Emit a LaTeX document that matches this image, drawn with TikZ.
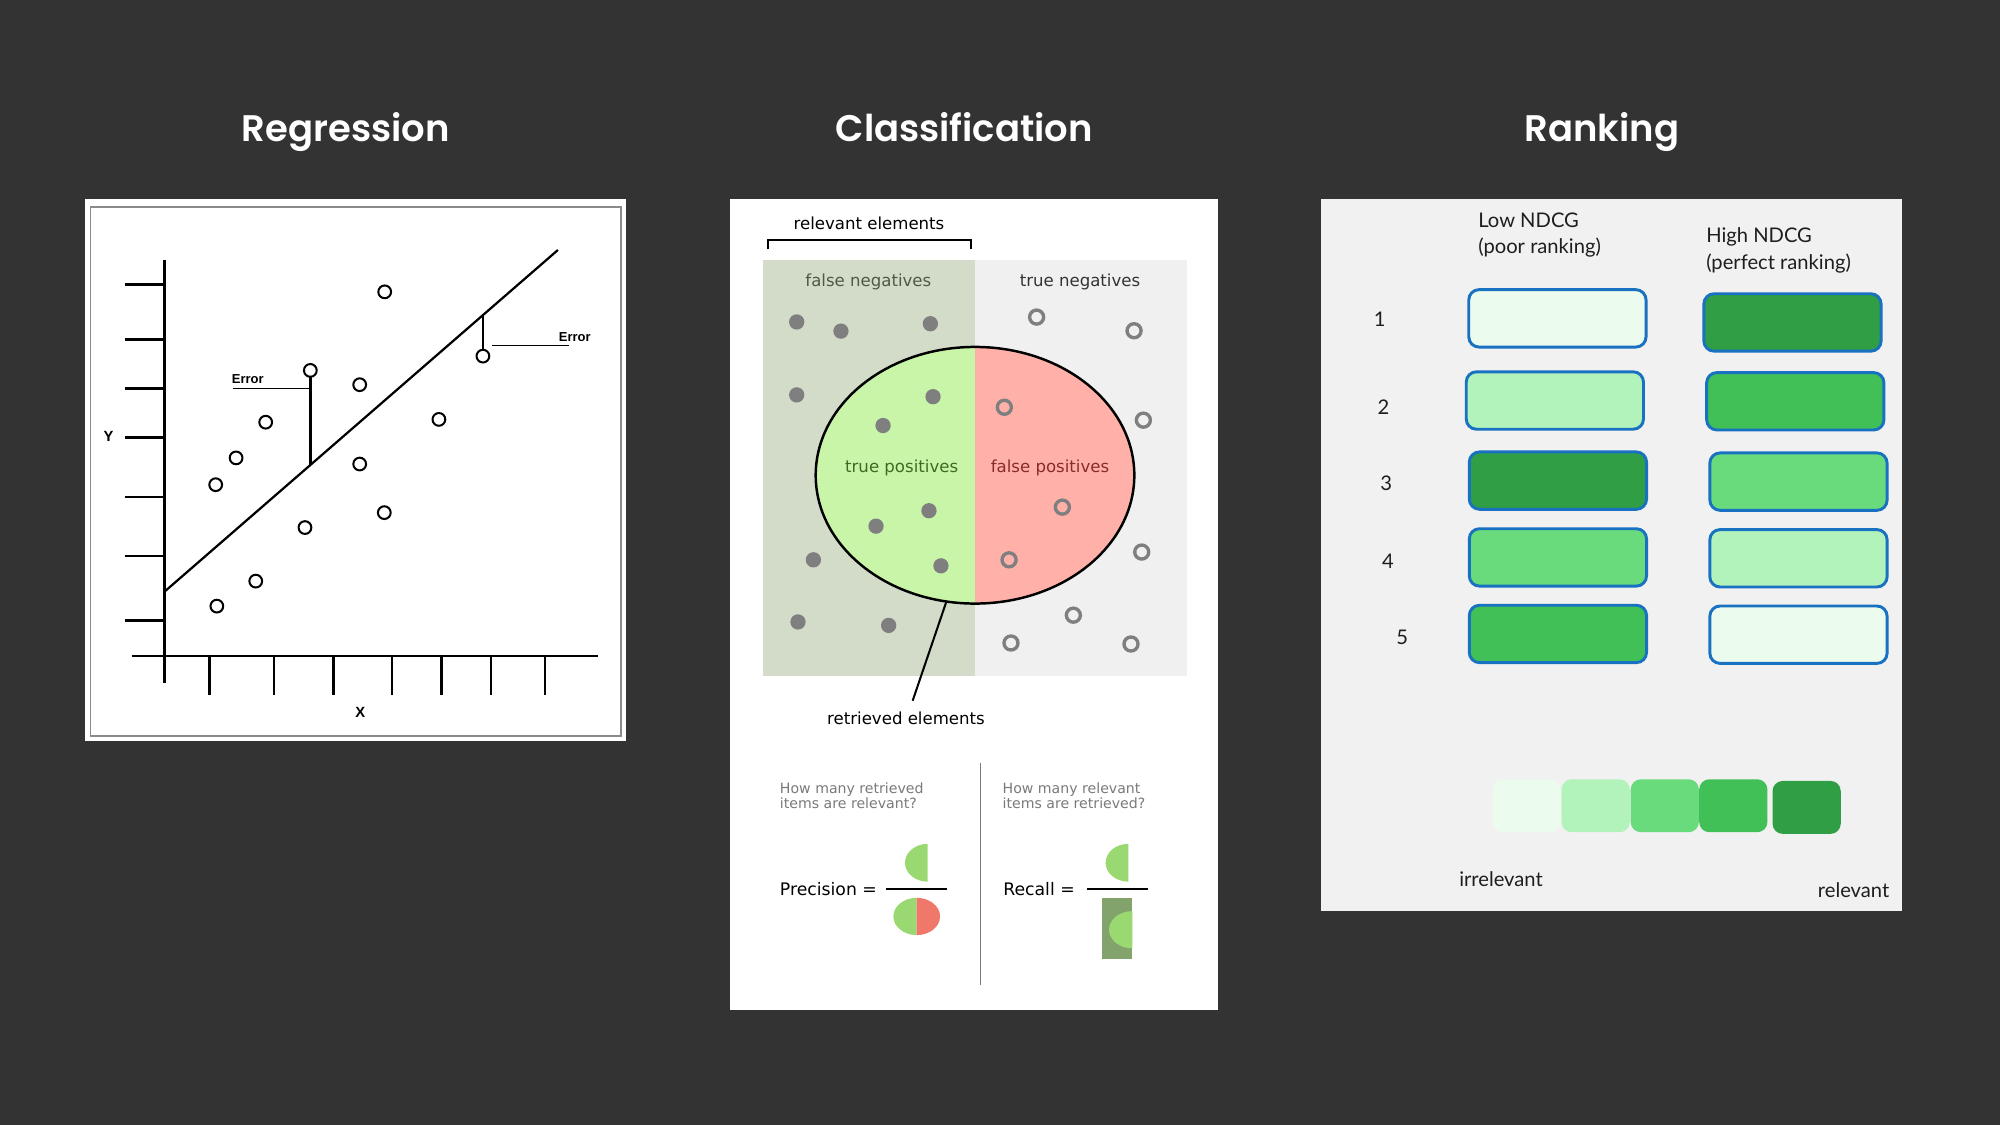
\documentclass[tikz,border=0pt]{standalone}
\usepackage{fontspec}
\setmainfont{DejaVu Sans}
\newfontfamily\titlefont{Poppins SemiBold}
\newfontfamily\arialfont{Liberation Sans}
\newfontfamily\handfont{Lato}
\definecolor{bgdark}{HTML}{333333}
\definecolor{framegray}{HTML}{8A8A8A}
\definecolor{relgreen}{HTML}{D2DCC9}
\definecolor{lightgray}{HTML}{F0F0F0}
\definecolor{tpgreen}{HTML}{C9F5A9}
\definecolor{fppink}{HTML}{FFB1A9}
\definecolor{dotgray}{HTML}{7F7F7F}
\definecolor{fntext}{HTML}{4E5A46}
\definecolor{tptext}{HTML}{3D6B1F}
\definecolor{fptext}{HTML}{8A2B2B}
\definecolor{askgray}{HTML}{7A7A7A}
\definecolor{prgreen}{HTML}{9AD872}
\definecolor{prred}{HTML}{F0786A}
\definecolor{prdark}{HTML}{82A46C}
\definecolor{rankbg}{HTML}{F1F1F1}
\definecolor{gzero}{HTML}{EBFBEE}
\definecolor{gtwo}{HTML}{B2F2BB}
\definecolor{gfour}{HTML}{69DB7C}
\definecolor{gsix}{HTML}{40C057}
\definecolor{geight}{HTML}{2F9E44}
\definecolor{boxblue}{HTML}{1971C2}
\definecolor{handink}{HTML}{1E1E1E}

\begin{document}
\begin{tikzpicture}[x=0.02cm, y=-0.02cm,
  every node/.style={inner sep=0pt, outer sep=0pt},
  ttl/.style={text=white, anchor=base, font=\titlefont\fontsize{16.5}{20}\selectfont},
  pt/.style={circle, draw=black, fill=white, line width=0.9pt, minimum size=0.2cm},
  errlbl/.style={font=\arialfont\bfseries\fontsize{5.8}{7}\selectfont},
  axlbl/.style={font=\arialfont\bfseries\fontsize{6.6}{8}\selectfont},
  reg/.style={line width=1.1pt},
  fulldot/.style={fill=dotgray},
  opendot/.style={draw=dotgray, line width=1.5pt},
  area/.style={font=\fontsize{7.4}{9}\selectfont},
  ask/.style={font=\fontsize{6.3}{6.7}\selectfont, text=askgray, align=left, anchor=west},
  ratio/.style={font=\fontsize{7.7}{9}\selectfont, anchor=west},
  hand/.style={font=\handfont\fontsize{9}{10}\selectfont, text=handink},
  bar/.style={rounded corners=0.16cm, draw=boxblue, line width=1.3pt, minimum width=2.78cm, minimum height=0.9cm},
  swatch/.style={rounded corners=0.16cm, minimum width=1.07cm, minimum height=0.83cm}]
\useasboundingbox (0,0) rectangle (1568,882);
\fill[bgdark] (0,0) rectangle (1568,882);

\node[ttl] (tReg) at (271,111) {Regression};
\node[ttl] (tCls) at (756,111) {Classification};
\node[ttl] (tRank) at (1256,111) {Ranking};

\fill[white] (67,156) rectangle (491,581);
\draw[framegray, line width=0.8pt] (71,162) rectangle (487,577);
\fill[white] (572,156) rectangle (955,792);
\fill[rankbg] (1036,156) rectangle (1491,714);

\draw[reg] (128.8,203.6) -- (128.8,535.4);
\draw[reg] (103.3,514.4) -- (468.8,514.4);
\draw[reg] (97.7,223.2) -- (128.8,223.2);
\draw[reg] (97.7,266) -- (128.8,266);
\draw[reg] (97.7,304.4) -- (128.8,304.4);
\draw[reg] (97.7,343) -- (128.8,343);
\draw[reg] (97.7,389.8) -- (128.8,389.8);
\draw[reg] (97.7,436) -- (128.8,436);
\draw[reg] (97.7,486.4) -- (128.8,486.4);
\draw[reg] (164.1,514.4) -- (164.1,545.2);
\draw[reg] (214.8,514.4) -- (214.8,545.2);
\draw[reg] (261.3,514.4) -- (261.3,545.2);
\draw[reg] (307.5,514.4) -- (307.5,545.2);
\draw[reg] (346.1,514.4) -- (346.1,545.2);
\draw[reg] (384.8,514.4) -- (384.8,545.2);
\draw[reg] (427.3,514.4) -- (427.3,545.2);
\draw[line width=1pt] (128.8,464) -- (437.4,196);
\node[axlbl] (yl) at (85.1,342.2) {Y};
\node[axlbl] (xl) at (282.5,558.4) {X};

\coordinate (fit1) at (243.3,364.6);
\coordinate (fit2) at (378.6,247.1);
\node[pt] (c1) at (301.6,228.8) {};
\node[pt] (c2) at (243.3,290.4) {};
\node[pt] (c3) at (282,301.6) {};
\node[pt] (c4) at (378.6,279.2) {};
\node[pt] (c5) at (208.3,331) {};
\node[pt] (c6) at (344.1,328.8) {};
\node[pt] (c7) at (185.1,359) {};
\node[pt] (c8) at (282,363.8) {};
\node[pt] (c9) at (169.1,380) {};
\node[pt] (c10) at (301.3,401.9) {};
\node[pt] (c11) at (239.1,413.6) {};
\node[pt] (c12) at (200.5,455.6) {};
\node[pt] (c13) at (170,475.2) {};
\draw[reg] (c2) -- (fit1);
\draw[line width=0.9pt] (c4) -- (fit2);
\node[errlbl] (err1) at (194.3,296.9) {Error};
\node[errlbl] (err2) at (450.6,264.6) {Error};
\coordinate (lead1a) at (182.6,304.4);
\coordinate (lead1b) at (243.3,304.4);
\coordinate (lead2a) at (386.1,270.8);
\coordinate (lead2b) at (446.4,270.8);
\draw[line width=0.6pt] (lead1a) -- (lead1b);
\draw[line width=0.6pt] (lead2a) -- (lead2b);

\node[area] (relel) at (681.3,175.4) {relevant elements};
\draw[line width=0.9pt] (601.9,195.5) -- (601.9,187.8) -- (761,187.8) -- (761,195.5);
\fill[relgreen] (598.5,203.8) rectangle (764.4,529.6);
\fill[lightgray] (764.4,203.8) rectangle (930.3,529.6);
\node[area, text=fntext] (fneg) at (680.8,220.8) {false negatives};
\node[area, text=black!80] (tneg) at (846.7,220.8) {true negatives};
\begin{scope}
\clip (598.5,203.8) rectangle (764.4,529.6);
\fill[tpgreen] (764.4,372.6) ellipse[x radius=124.9, y radius=100.6];
\end{scope}
\begin{scope}
\clip (764.4,203.8) rectangle (930.3,529.6);
\fill[fppink] (764.4,372.6) ellipse[x radius=124.9, y radius=100.6];
\end{scope}
\draw[line width=1.1pt] (764.4,372.6) ellipse[x radius=124.9, y radius=100.6];
\node[area, text=tptext] (tpos) at (706.9,366.6) {true positives};
\node[area, text=fptext] (fpos) at (823.2,366.6) {false positives};

\fill[fulldot] (624.6,252.4) circle[radius=6];
\fill[fulldot] (659.3,259.6) circle[radius=6];
\fill[fulldot] (729.4,253.8) circle[radius=6];
\fill[fulldot] (624.6,309.6) circle[radius=6];
\fill[fulldot] (731.5,311) circle[radius=6];
\fill[fulldot] (692.3,333.6) circle[radius=6];
\fill[fulldot] (728.3,400.4) circle[radius=6];
\fill[fulldot] (686.8,412.5) circle[radius=6];
\fill[fulldot] (637.7,438.9) circle[radius=6];
\fill[fulldot] (737.7,443.6) circle[radius=6];
\fill[fulldot] (625.6,487.6) circle[radius=6];
\fill[fulldot] (696.7,490.3) circle[radius=6];
\draw[opendot] (812.7,248.6) circle[radius=5.5];
\draw[opendot] (889.1,259.3) circle[radius=5.5];
\draw[opendot] (787.4,319.3) circle[radius=5.5];
\draw[opendot] (896.4,329.4) circle[radius=5.5];
\draw[opendot] (832.9,397.6) circle[radius=5.5];
\draw[opendot] (895.1,432.8) circle[radius=5.5];
\draw[opendot] (791.1,438.9) circle[radius=5.5];
\draw[opendot] (841.5,482.3) circle[radius=5.5];
\draw[opendot] (792.6,504.1) circle[radius=5.5];
\draw[opendot] (886.7,504.9) circle[radius=5.5];

\coordinate (ebot) at (741.7,472.4);
\coordinate (rtip) at (715.5,549.4);
\node[area] (retr) at (710.3,563.2) {retrieved elements};
\draw[line width=0.9pt] (ebot) -- (rtip);

\draw[askgray, line width=0.6pt] (768.6,598) -- (768.6,772.3);
\node[ask] (askP) at (611.5,623.7) {How many retrieved\\items are relevant?};
\node[ask] (askR) at (786.1,623.7) {How many relevant\\items are retrieved?};
\node[ratio] (prec) at (611.5,697) {Precision =};
\node[ratio] (rec) at (786.6,697) {Recall =};
\draw[line width=0.7pt] (694.6,697) -- (742.2,697);
\draw[line width=0.7pt] (851.9,697) -- (899.8,697);
\begin{scope}
\clip (700,655) rectangle (727.3,698);
\fill[prgreen] (727.3,676.4) ellipse[x radius=17.8, y radius=14.8];
\end{scope}
\begin{scope}
\clip (695,700) rectangle (718.7,740);
\fill[prgreen] (718.7,718.5) ellipse[x radius=18.3, y radius=14.6];
\end{scope}
\begin{scope}
\clip (718.7,700) rectangle (745,740);
\fill[prred] (718.7,718.5) ellipse[x radius=18.3, y radius=14.6];
\end{scope}
\begin{scope}
\clip (860,655) rectangle (884.6,698);
\fill[prgreen] (884.6,676.4) ellipse[x radius=17.8, y radius=14.8];
\end{scope}
\fill[prdark] (863.7,703.8) rectangle (887.7,751.9);
\begin{scope}
\clip (863.7,703.8) rectangle (887.7,751.9);
\fill[prgreen] (887.7,728.9) ellipse[x radius=18.2, y radius=14.6];
\end{scope}

\node[hand, anchor=west] (lowA) at (1159,172.7) {Low NDCG};
\node[hand, anchor=west] (lowB) at (1159,194.3) {(poor ranking)};
\node[hand, anchor=west] (highA) at (1337.7,186) {High NDCG};
\node[hand, anchor=west] (highB) at (1337.7,206.9) {(perfect ranking)};
\node[hand] (r1) at (1081.7,250.1) {1};
\node[hand] (r2) at (1084.6,319.2) {2};
\node[hand] (r3) at (1086.7,379) {3};
\node[hand] (r4) at (1088.1,439.8) {4};
\node[hand] (r5) at (1099.3,499.6) {5};

\node[bar, fill=gzero] (low1) at (1221,249.6) {};
\node[bar, fill=gtwo] (low2) at (1219,314) {};
\node[bar, fill=geight] (low3) at (1221.4,376.8) {};
\node[bar, fill=gfour] (low4) at (1221.4,437) {};
\node[bar, fill=gsix] (low5) at (1221.4,497) {};
\node[bar, fill=geight] (high1) at (1405.3,252.8) {};
\node[bar, fill=gsix] (high2) at (1407.5,314.6) {};
\node[bar, fill=gfour] (high3) at (1410,377.6) {};
\node[bar, fill=gtwo] (high4) at (1410,437.7) {};
\node[bar, fill=gzero] (high5) at (1410,497.6) {};

\node[swatch, fill=gzero] (s1) at (1196.9,631.7) {};
\node[swatch, fill=gtwo] (s2) at (1251,631.7) {};
\node[swatch, fill=gfour] (s3) at (1305.2,631.7) {};
\node[swatch, fill=gsix] (s4) at (1358.9,631.7) {};
\node[swatch, fill=geight] (s5) at (1416.4,633) {};
\node[hand] (irr) at (1176.8,689.3) {irrelevant};
\node[hand] (rel) at (1453.2,698.2) {relevant};
\end{tikzpicture}
\end{document}
